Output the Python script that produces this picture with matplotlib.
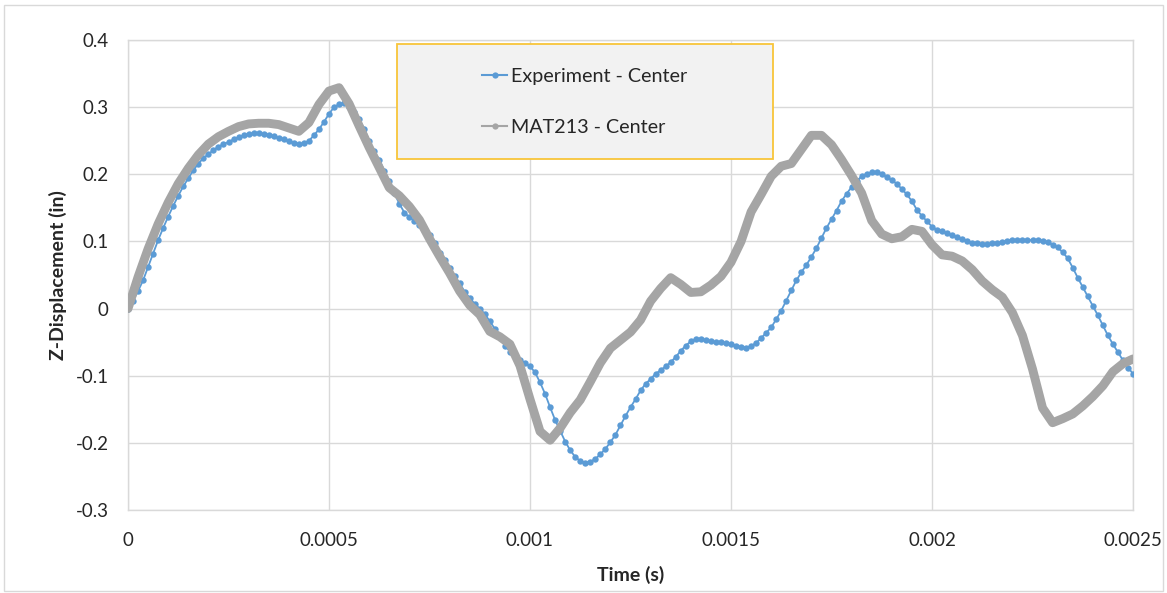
import numpy as np
import matplotlib
matplotlib.use("Agg")
import matplotlib.pyplot as plt
from matplotlib.lines import Line2D
from matplotlib.patches import Rectangle

plt.rcParams['font.family'] = ['Lato', 'DejaVu Sans']

# ---------------- data ----------------
exp_dt = 1.25e-5
exp_center = [
    0.000, 0.012, 0.026, 0.042, 0.062, 0.082, 0.102, 0.120, 0.137, 0.153,
    0.168, 0.182, 0.194, 0.206, 0.216, 0.224, 0.230, 0.236, 0.241, 0.245,
    0.248, 0.252, 0.255, 0.258, 0.260, 0.261, 0.261, 0.260, 0.259, 0.257,
    0.254, 0.252, 0.249, 0.247, 0.245, 0.246, 0.250, 0.258, 0.267, 0.278,
    0.290, 0.300, 0.304, 0.306, 0.300, 0.293, 0.282, 0.268, 0.250, 0.234,
    0.222, 0.205, 0.190, 0.172, 0.156, 0.143, 0.136, 0.131, 0.124, 0.117,
    0.110, 0.097, 0.083, 0.072, 0.060, 0.048, 0.038, 0.025, 0.016, 0.007,
    0.000, -0.008, -0.019, -0.030, -0.042, -0.055, -0.064, -0.071, -0.077, -0.081,
    -0.086, -0.095, -0.110, -0.127, -0.147, -0.166, -0.182, -0.198, -0.211, -0.221,
    -0.227, -0.230, -0.228, -0.224, -0.217, -0.209, -0.199, -0.188, -0.174, -0.160,
    -0.147, -0.135, -0.122, -0.112, -0.105, -0.097, -0.092, -0.086, -0.080, -0.072,
    -0.063, -0.055, -0.049, -0.045, -0.045, -0.047, -0.049, -0.050, -0.050, -0.052,
    -0.053, -0.055, -0.057, -0.058, -0.056, -0.051, -0.044, -0.036, -0.028, -0.016,
    -0.003, 0.012, 0.027, 0.042, 0.054, 0.065, 0.077, 0.090, 0.105, 0.120,
    0.133, 0.146, 0.160, 0.171, 0.181, 0.190, 0.197, 0.201, 0.203, 0.203,
    0.200, 0.196, 0.191, 0.186, 0.178, 0.170, 0.160, 0.147, 0.138, 0.130,
    0.122, 0.117, 0.115, 0.112, 0.109, 0.106, 0.103, 0.101, 0.098, 0.097,
    0.096, 0.096, 0.097, 0.098, 0.099, 0.101, 0.102, 0.102, 0.102, 0.102,
    0.102, 0.102, 0.101, 0.099, 0.095, 0.091, 0.084, 0.075, 0.061, 0.046,
    0.032, 0.018, 0.004, -0.010, -0.025, -0.040, -0.053, -0.065, -0.077, -0.088,
    -0.097,
]

mat_dt = 2.5e-5
mat213_center = [
    0.000, 0.047, 0.089, 0.126, 0.158, 0.186, 0.209, 0.229, 0.245, 0.256,
    0.264, 0.271, 0.275, 0.276, 0.276, 0.274, 0.269, 0.264, 0.277, 0.304,
    0.324, 0.329, 0.305, 0.272, 0.240, 0.210, 0.180, 0.168, 0.152, 0.132,
    0.104, 0.078, 0.053, 0.026, 0.005, -0.009, -0.034, -0.042, -0.053, -0.085,
    -0.135, -0.183, -0.196, -0.178, -0.155, -0.136, -0.109, -0.081, -0.059, -0.047,
    -0.035, -0.017, 0.011, 0.030, 0.046, 0.036, 0.024, 0.025, 0.035, 0.048,
    0.069, 0.100, 0.144, 0.170, 0.197, 0.212, 0.216, 0.237, 0.258, 0.258,
    0.244, 0.222, 0.198, 0.172, 0.131, 0.111, 0.104, 0.107, 0.118, 0.115,
    0.095, 0.080, 0.078, 0.071, 0.058, 0.041, 0.028, 0.017, -0.006, -0.040,
    -0.090, -0.148, -0.170, -0.164, -0.157, -0.145, -0.131, -0.115, -0.094, -0.082,
    -0.075,
]

series_names = ["Experiment - Center", "MAT213 - Center"]
x_ticks = [0, 0.0005, 0.001, 0.0015, 0.002, 0.0025]
x_tick_labels = ["0", "0.0005", "0.001", "0.0015", "0.002", "0.0025"]
y_ticks = [-0.3, -0.2, -0.1, 0, 0.1, 0.2, 0.3, 0.4]
y_tick_labels = ["-0.3", "-0.2", "-0.1", "0", "0.1", "0.2", "0.3", "0.4"]

exp_t = np.arange(len(exp_center)) * exp_dt
mat_t = np.arange(len(mat213_center)) * mat_dt

# ---------------- figure ----------------
W, H = 1167, 593
fig = plt.figure(figsize=(W / 100, H / 100), dpi=100)
fig.patch.set_facecolor("white")

def fx(px):
    return px / W

def fy(py):
    return 1 - py / H

ax = fig.add_axes([fx(128), fy(510), fx(1133) - fx(128), fy(40) - fy(510)])

blue = "#5B9BD5"
gray = "#A5A5A5"
grid = "#D9D9D9"
txt = "#262626"

ax.plot(exp_t, exp_center, color=blue, lw=1.3, marker="o", markersize=4.6,
        markeredgewidth=0, zorder=3)
ax.plot(mat_t, mat213_center, color=gray, lw=6.4, solid_capstyle="round",
        solid_joinstyle="round", zorder=4)

ax.set_xlim(0, 0.0025)
ax.set_ylim(-0.3, 0.4)
ax.set_xticks(x_ticks)
ax.set_xticklabels(x_tick_labels)
ax.set_yticks(y_ticks)
ax.set_yticklabels(y_tick_labels)
ax.grid(True, color=grid, lw=1.0)
ax.set_axisbelow(True)
for s in ax.spines.values():
    s.set_color(grid)
    s.set_linewidth(1.0)
ax.tick_params(axis="both", length=0, labelsize=13.5, colors=txt)
ax.tick_params(axis="x", pad=16)
ax.tick_params(axis="y", pad=14)

ax.set_xlabel("Time (s)", fontsize=14, fontweight="bold", color=txt, labelpad=12)
ax.set_ylabel("Z-Displacement (in)", fontsize=14, fontweight="bold", color=txt, labelpad=6)

# legend box
fig.patches.append(Rectangle((fx(397), fy(159)), fx(773) - fx(397), fy(44) - fy(159),
                             transform=fig.transFigure, facecolor="#F2F2F2",
                             edgecolor="#F8C53A", lw=1.3, zorder=5))
handles = [
    Line2D([], [], color=blue, lw=1.5, marker="o", markersize=4.5, markeredgewidth=0),
    Line2D([], [], color=gray, lw=1.5, marker="o", markersize=4.5, markeredgewidth=0),
]
leg = fig.legend(handles, series_names, loc="center",
                 bbox_to_anchor=(fx(585), fy(102)), frameon=False,
                 fontsize=14.2, labelspacing=1.75, handlelength=1.27,
                 handletextpad=0.2, borderpad=0)
leg.set_zorder(6)
for t in leg.get_texts():
    t.set_color(txt)

# outer chart border
fig.patches.append(Rectangle((fx(4), fy(591)), fx(1163) - fx(4), fy(5) - fy(591),
                             transform=fig.transFigure, facecolor="none",
                             edgecolor="#D9D9D9", lw=1.0, zorder=0))

fig.savefig("out.png", dpi=100)
